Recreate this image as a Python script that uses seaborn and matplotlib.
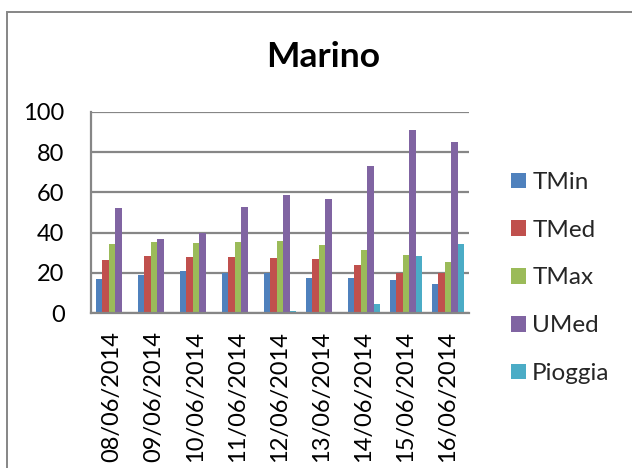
import matplotlib
matplotlib.use("Agg")
import matplotlib.pyplot as plt
import seaborn as sns
import pandas as pd
from matplotlib.patches import Rectangle

# Daily weather readings for Marino
dates = ["08/06/2014", "09/06/2014", "10/06/2014", "11/06/2014", "12/06/2014",
         "13/06/2014", "14/06/2014", "15/06/2014", "16/06/2014"]
tmin = [17.0, 19.0, 20.7, 19.7, 19.7, 17.6, 17.4, 16.2, 14.4]
tmed = [26.4, 28.5, 28.0, 28.0, 27.2, 26.7, 23.7, 19.7, 19.7]
tmax = [34.3, 35.3, 34.7, 35.2, 36.0, 33.7, 31.3, 28.9, 25.2]
umed = [52.1, 36.8, 39.8, 52.9, 58.9, 56.9, 73.0, 91.0, 85.0]
pioggia = [0.0, 0.0, 0.0, 0.0, 1.0, 0.0, 4.3, 28.4, 34.3]

series_names = ["TMin", "TMed", "TMax", "UMed", "Pioggia"]
series_values = [tmin, tmed, tmax, umed, pioggia]
colors = ["#4F81BD", "#C0504D", "#9BBB59", "#8064A2", "#4BACC6"]
yticks = [0, 20, 40, 60, 80, 100]

rows = []
for name, vals in zip(series_names, series_values):
    for d, v in zip(dates, vals):
        rows.append({"Data": d, "Serie": name, "Valore": v})
df = pd.DataFrame(rows)

sns.set_theme(style="white")
plt.rcParams["font.family"] = ["Lato", "DejaVu Sans"]

fig = plt.figure(figsize=(6.32, 4.68), dpi=100)
ax = fig.add_axes([91 / 632, 1 - 313 / 468, (469 - 91) / 632, (313 - 112) / 468])

sns.barplot(data=df, x="Data", y="Valore", hue="Serie", order=dates,
            hue_order=series_names, palette=colors, width=0.77, gap=0,
            saturation=1, ax=ax, legend=True, linewidth=0)

ax.set_ylim(0, 100)
ax.set_yticks(yticks)
ax.set_yticklabels([str(t) for t in yticks])
ax.set_xlim(-0.5, len(dates) - 0.5)
ax.set_xlabel("")
ax.set_ylabel("")

ax.yaxis.grid(True, color="#868686", linewidth=1.6)
ax.set_axisbelow(True)
for side in ("top", "right"):
    ax.spines[side].set_visible(False)
for side in ("left", "bottom"):
    ax.spines[side].set_color("#868686")
    ax.spines[side].set_linewidth(1.6)

ax.tick_params(axis="y", length=0, pad=19, labelsize=17, labelcolor="black")
ax.tick_params(axis="x", length=0, pad=13, labelsize=17, labelcolor="black",
               labelrotation=90)

# Chart title
fig.text(323 / 632, 1 - 57 / 468, "Marino", ha="center", va="center",
         fontsize=25.5, fontweight="bold", color="black")

# Legend on the right
handles, labels = ax.get_legend_handles_labels()
ax.legend_.remove()
fig.legend(handles, labels, loc="upper left",
           bbox_to_anchor=(511 / 632, 1 - 172 / 468), frameon=False,
           fontsize=17.5, handlelength=0.62, handleheight=0.62,
           handletextpad=0.25, labelspacing=1.1, borderpad=0,
           borderaxespad=0)

# Outer chart frame
fig.patches.append(Rectangle((7 / 632, -0.1), 1.2, 1 - 12 / 468 + 0.1,
                             transform=fig.transFigure, fill=False,
                             edgecolor="#868686", linewidth=1.4))

fig.savefig("out.png", dpi=100)
